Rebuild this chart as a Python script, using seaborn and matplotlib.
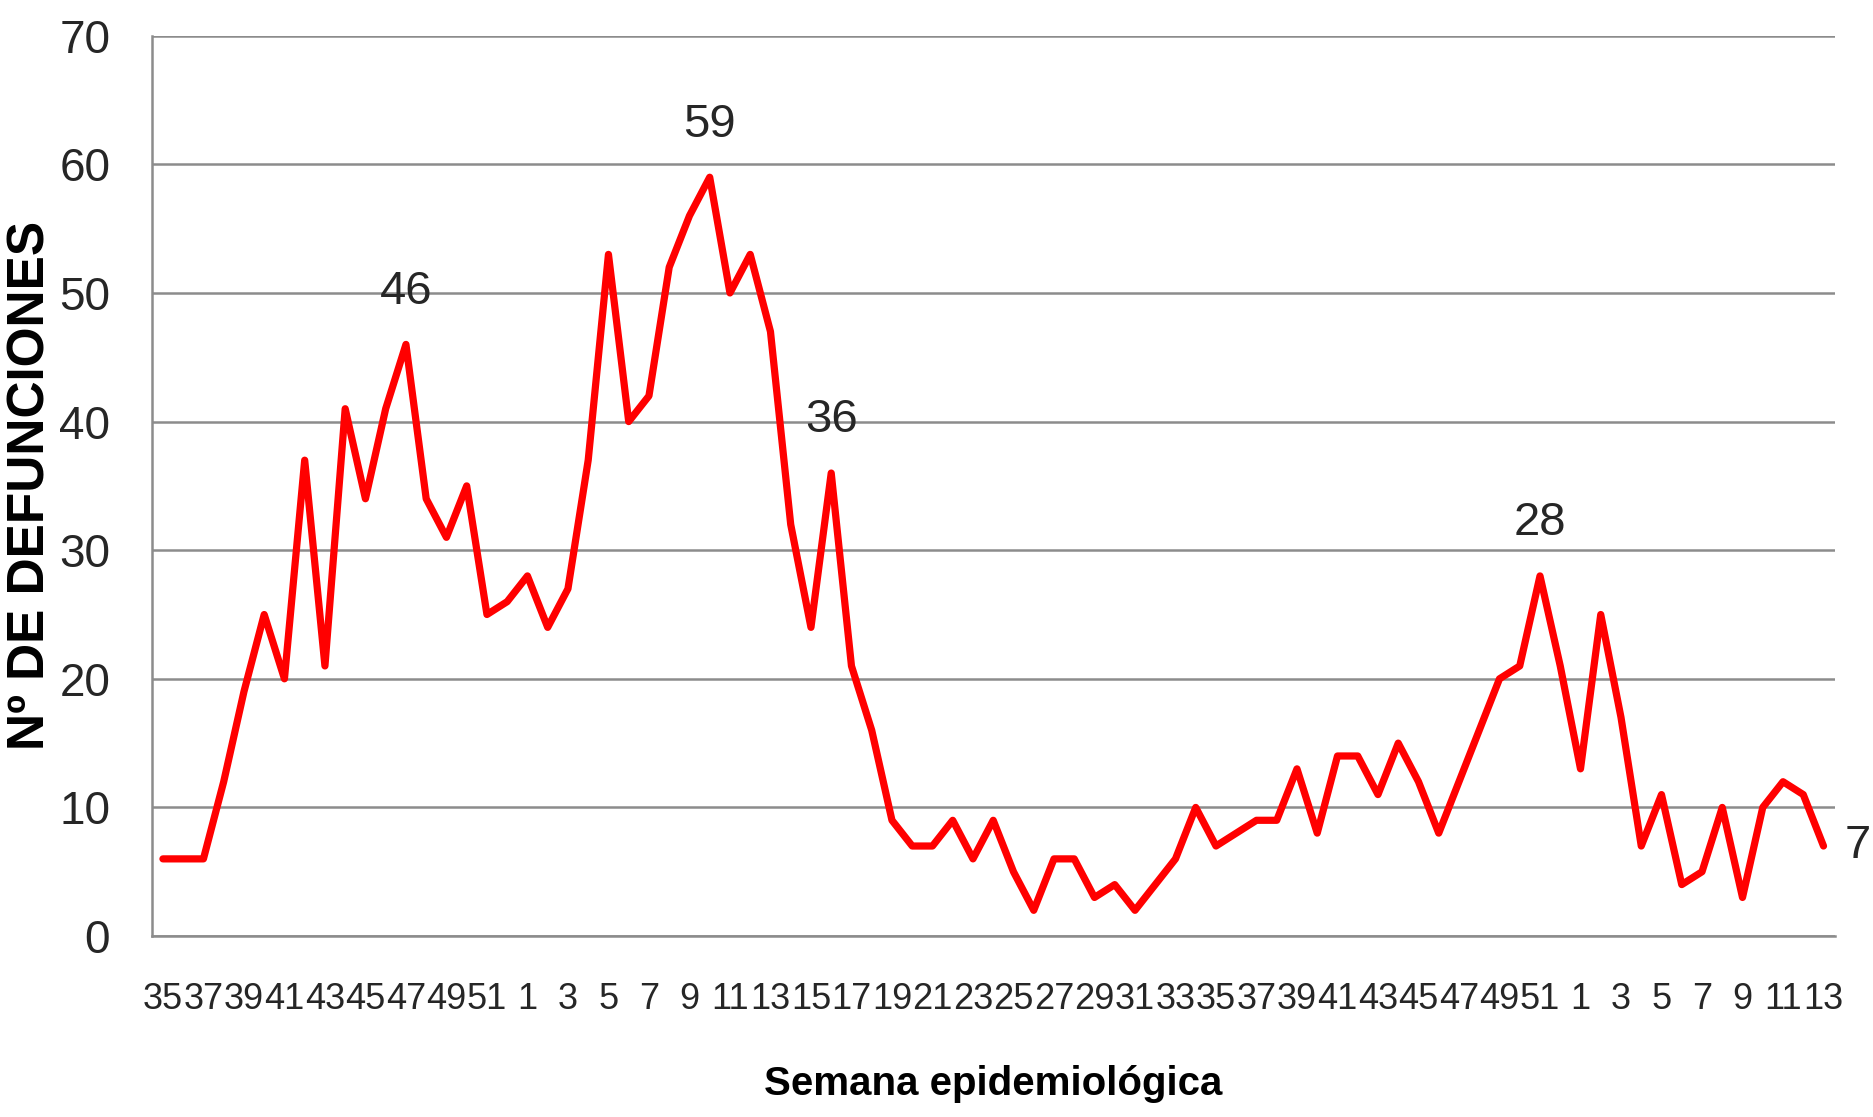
import matplotlib
matplotlib.use("Agg")
import matplotlib.pyplot as plt
import seaborn as sns
import pandas as pd

# semanas epidemiológicas (categorías del eje x)
semanas = list(range(35, 53)) + list(range(1, 53)) + list(range(1, 14))

# defunciones por semana
defunciones_a1 = [6, 6, 6, 12, 19, 25, 20, 37, 21, 41, 34, 41, 46, 34, 31, 35, 25, 26]
defunciones_a2 = [28, 24, 27, 37, 53, 40, 42, 52, 56, 59, 50, 53, 47, 32, 24, 36, 21, 16,
                  9, 7, 7, 9, 6, 9, 5, 2, 6, 6, 3, 4, 2, 4, 6, 10, 7, 8, 9, 9, 13, 8,
                  14, 14, 11, 15, 12, 8, 12, 16, 20, 21, 28, 21]
defunciones_a3 = [13, 25, 17, 7, 11, 4, 5, 10, 3, 10, 12, 11, 7]

# puntos etiquetados (posición en la serie)
etiquetados = [12, 27, 33, 68]

df = pd.DataFrame({
    "pos": range(len(semanas)),
    "semana": semanas,
    "defunciones": defunciones_a1 + defunciones_a2 + defunciones_a3,
})

sns.set_theme(style="white")
plt.rcParams["font.family"] = ["Liberation Sans", "DejaVu Sans"]

fig = plt.figure(figsize=(18.74, 11.17), dpi=100)
ax = fig.add_axes([0.081, 0.162, 0.898, 0.806])

sns.lineplot(data=df, x="pos", y="defunciones", color="#ff0000", linewidth=5.2,
             ax=ax, solid_joinstyle="round", solid_capstyle="round")

ax.set_xlim(-0.55, len(semanas) - 0.45)
ax.set_ylim(0, 70)
ax.set_yticks(range(0, 71, 10))
ax.set_xticks(df["pos"][::2])
ax.set_xticklabels(df["semana"][::2])
ax.tick_params(axis="y", labelsize=33, pad=30, length=0, colors="#262626")
ax.tick_params(axis="x", labelsize=26, pad=33, length=0, colors="#262626")

ax.yaxis.grid(True, color="#8c8c8c", linewidth=1.8)
ax.xaxis.grid(False)
ax.set_axisbelow(True)
for side in ["top", "right"]:
    ax.spines[side].set_visible(False)
for side in ["left", "bottom"]:
    ax.spines[side].set_color("#8c8c8c")
    ax.spines[side].set_linewidth(1.8)

for i in etiquetados:
    ax.annotate(str(df["defunciones"][i]), (df["pos"][i], df["defunciones"][i]),
                xytext=(0, 22), textcoords="offset points", ha="center", va="bottom",
                fontsize=34, color="#262626")
last = df.iloc[-1]
ax.annotate(str(last["defunciones"]), (last["pos"], last["defunciones"]),
            xytext=(15, 0), textcoords="offset points", ha="left", va="center",
            fontsize=34, color="#262626", annotation_clip=False)

ax.set_xlabel("Semana epidemiológica", fontsize=29, fontweight="bold", color="black")
ax.set_ylabel("Nº DE DEFUNCIONES", fontsize=37, fontweight="bold", color="black")
ax.xaxis.set_label_coords(0.5, -0.143)
ax.yaxis.set_label_coords(-0.057, 0.5)

fig.savefig("out.png", dpi=100)
